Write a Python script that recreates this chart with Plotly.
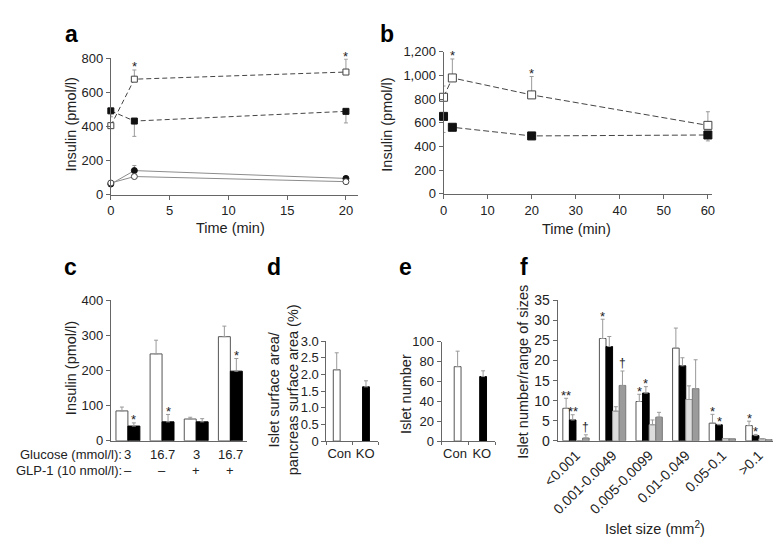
import plotly.graph_objects as go

# ---------------- data ----------------
# panel a
a_time = [0, 2, 20]
a_open_sq = [405, 678, 720]
a_open_sq_err = [0, 54, 76]
a_fill_sq = [492, 432, 489]
a_fill_sq_err = [35, 90, 68]
a_fill_circ = [62, 141, 95]
a_fill_circ_err = [0, 30, 0]
a_open_circ = [68, 106, 76]
a_star_times = [2, 20]

# panel b
b_time = [0, 2, 20, 60]
b_open_sq = [815, 978, 835, 578]
b_open_sq_err = [95, 160, 155, 115]
b_fill_sq = [654, 562, 489, 497]
b_fill_sq_err = [136, 0, 0, 50]
b_star_times = [2, 20]

# panel c
c_groups = [1, 2, 3, 4]
c_glucose = ["3", "16.7", "3", "16.7"]
c_glp1 = ["\u2013", "\u2013", "+", "+"]
c_con = [85, 247, 62, 296]
c_con_err = [11, 39, 5, 30]
c_ko = [42, 54, 54, 198]
c_ko_err = [9, 21, 9, 36]
c_ko_stars = [1, 2, 4]

# panel d
d_cats = ["Con", "KO"]
d_vals = [2.14, 1.63]
d_err = [0.51, 0.18]

# panel e
e_cats = ["Con", "KO"]
e_vals = [75, 65]
e_err = [15.6, 5.8]

# panel f
f_labels = ["<0.001", "0.001-0.0049", "0.005-0.0099", "0.01-0.049", "0.05-0.1", ">0.1"]
f_s1 = [8.1, 25.5, 9.8, 23.1, 4.4, 3.8]
f_s1_err = [2.5, 4.8, 1.8, 5.0, 2.2, 1.1]
f_s2 = [5.2, 23.5, 11.9, 18.7, 4.0, 1.3]
f_s2_err = [1.3, 2.5, 1.6, 2.0, 0.1, 0.3]
f_s3 = [0.0, 7.4, 4.0, 10.3, 0.55, 0.5]
f_s3_err = [0.0, 1.1, 1.2, 3.4, 0.0, 0.0]
f_s4 = [0.7, 13.8, 5.9, 13.0, 0.5, 0.3]
f_s4_err = [0.8, 3.6, 1.2, 7.2, 0.0, 0.0]
f_marks = {  # series index -> {group: mark}
    0: {1: "**", 2: "*", 3: "*", 5: "*", 6: "*"},
    1: {1: "**", 3: "*", 5: "*", 6: "*"},
    3: {1: "\u2020", 2: "\u2020"},
}

# ---------------- layout helpers ----------------
W, H = 781, 544
FONT = "Liberation Sans, Arial, sans-serif"
AX = "#666666"
TXT = "#222222"
ERR = "#9a9a9a"


def xd(a, b):
    return [a / W, b / W]


def yd(top, bottom):
    return [1 - bottom / H, 1 - top / H]


def axis_common(**kw):
    d = dict(showline=True, linecolor=AX, linewidth=1, ticks="outside", ticklen=4,
             tickcolor=AX, tickwidth=1, showgrid=False, zeroline=False,
             tickfont=dict(family=FONT, size=13, color=TXT), fixedrange=True)
    d.update(kw)
    return d


fig = go.Figure()
ann = []


def errbar(arr, up=True, vis=True):
    zeros = [0] * len(arr)
    return dict(type="data", symmetric=False, array=arr if up else zeros,
                arrayminus=zeros if up else arr, color=ERR, thickness=1, width=2, visible=vis)


# ---------------- panel a ----------------
fig.add_trace(go.Scatter(x=a_time, y=a_fill_circ, mode="lines+markers", xaxis="x", yaxis="y",
                         line=dict(color="#8c8c8c", width=1),
                         marker=dict(symbol="circle", size=6, color="#111", line=dict(color="#111", width=1)),
                         error_y=errbar(a_fill_circ_err), cliponaxis=False, showlegend=False))
fig.add_trace(go.Scatter(x=a_time, y=a_open_circ, mode="lines+markers", xaxis="x", yaxis="y",
                         line=dict(color="#8c8c8c", width=1),
                         marker=dict(symbol="circle", size=6, color="white", line=dict(color="#444", width=1)),
                         cliponaxis=False, showlegend=False))
fig.add_trace(go.Scatter(x=a_time, y=a_fill_sq, mode="lines+markers", xaxis="x", yaxis="y",
                         line=dict(color="#444", width=1, dash="5px,3px"),
                         marker=dict(symbol="square", size=6, color="#111", line=dict(color="#111", width=1)),
                         error_y=errbar(a_fill_sq_err, up=False), cliponaxis=False, showlegend=False))
fig.add_trace(go.Scatter(x=a_time, y=a_open_sq, mode="lines+markers", xaxis="x", yaxis="y",
                         line=dict(color="#444", width=1, dash="5px,3px"),
                         marker=dict(symbol="square", size=6, color="white", line=dict(color="#444", width=1)),
                         error_y=errbar(a_open_sq_err), cliponaxis=False, showlegend=False))
for t in a_star_times:
    i = a_time.index(t)
    ann.append(dict(x=t, y=a_open_sq[i] + a_open_sq_err[i], xref="x", yref="y", text="*",
                    showarrow=False, yanchor="middle", yshift=3,
                    font=dict(family=FONT, size=13, color=TXT)))

# ---------------- panel b ----------------
fig.add_trace(go.Scatter(x=b_time, y=b_fill_sq, mode="lines+markers", xaxis="x2", yaxis="y2",
                         line=dict(color="#444", width=1, dash="6px,3px"),
                         marker=dict(symbol="square", size=8, color="#111", line=dict(color="#111", width=1)),
                         error_y=errbar(b_fill_sq_err, up=False), cliponaxis=False, showlegend=False))
fig.add_trace(go.Scatter(x=b_time, y=b_open_sq, mode="lines+markers", xaxis="x2", yaxis="y2",
                         line=dict(color="#444", width=1, dash="6px,3px"),
                         marker=dict(symbol="square", size=8, color="white", line=dict(color="#444", width=1)),
                         error_y=errbar(b_open_sq_err), cliponaxis=False, showlegend=False))
for t in b_star_times:
    i = b_time.index(t)
    ann.append(dict(x=t, y=b_open_sq[i] + b_open_sq_err[i], xref="x2", yref="y2", text="*",
                    showarrow=False, yanchor="middle", yshift=3,
                    font=dict(family=FONT, size=13, color=TXT)))

# ---------------- panel c ----------------
CW = 0.35
fig.add_trace(go.Bar(x=c_groups, y=c_con, xaxis="x3", yaxis="y3", width=CW, offset=-CW,
                     marker=dict(color="white", line=dict(color="#555", width=1)),
                     error_y=errbar(c_con_err), showlegend=False))
fig.add_trace(go.Bar(x=c_groups, y=c_ko, xaxis="x3", yaxis="y3", width=CW, offset=0,
                     marker=dict(color="#000", line=dict(color="#000", width=1)),
                     error_y=errbar(c_ko_err), showlegend=False))
for g in c_ko_stars:
    i = c_groups.index(g)
    ann.append(dict(x=g + CW / 2, y=c_ko[i] + c_ko_err[i], xref="x3", yref="y3", text="*",
                    showarrow=False, yanchor="middle", yshift=3,
                    font=dict(family=FONT, size=13, color=TXT)))
for g, glu, glp in zip(c_groups, c_glucose, c_glp1):
    ann.append(dict(x=g, y=1 - 452 / H, xref="x3", yref="paper", text=glu, showarrow=False,
                    xanchor="center", yanchor="middle", font=dict(family=FONT, size=13, color=TXT)))
    ann.append(dict(x=g, y=1 - 468 / H, xref="x3", yref="paper", text=glp, showarrow=False,
                    xanchor="center", yanchor="middle", font=dict(family=FONT, size=13, color=TXT)))
ann.append(dict(x=103 / W, y=1 - 452 / H, xref="paper", yref="paper", text="Glucose (mmol/l):",
                showarrow=False, xanchor="right", yanchor="middle", font=dict(family=FONT, size=13, color=TXT)))
ann.append(dict(x=103 / W, y=1 - 468 / H, xref="paper", yref="paper", text="GLP-1 (10 nmol/l):",
                showarrow=False, xanchor="right", yanchor="middle", font=dict(family=FONT, size=13, color=TXT)))

# ---------------- panel d ----------------
fig.add_trace(go.Bar(x=[1, 2], y=d_vals, xaxis="x4", yaxis="y4", width=0.265, offset=[-0.236, -0.104],
                     marker=dict(color=["white", "#000"], line=dict(color=["#555", "#000"], width=1)),
                     error_y=errbar(d_err), showlegend=False))

# ---------------- panel e ----------------
fig.add_trace(go.Bar(x=[1, 2], y=e_vals, xaxis="x5", yaxis="y5", width=0.255, offset=[-0.03, -0.08],
                     marker=dict(color=["white", "#000"], line=dict(color=["#555", "#000"], width=1)),
                     error_y=errbar(e_err), showlegend=False))

# ---------------- panel f ----------------
FW = 0.18
f_series = [(f_s1, f_s1_err, "white", "#555"), (f_s2, f_s2_err, "#000", "#000"),
            (f_s3, f_s3_err, "#dcdcdc", "#9a9a9a"), (f_s4, f_s4_err, "#9b9b9b", "#777")]
f_x = list(range(1, len(f_labels) + 1))
for k, (vals, errs, fc, lc) in enumerate(f_series):
    off = -2 * FW + k * FW
    fig.add_trace(go.Bar(x=f_x, y=vals, xaxis="x6", yaxis="y6", width=FW, offset=off,
                         marker=dict(color=fc, line=dict(color=lc, width=1)),
                         error_y=errbar(errs), showlegend=False))
    for g, mark in f_marks.get(k, {}).items():
        i = g - 1
        ann.append(dict(x=g + off + FW / 2, y=vals[i] + errs[i], xref="x6", yref="y6", text=mark,
                        showarrow=False, yanchor="middle",
                        yshift=3 if mark.startswith("*") else 8,
                        font=dict(family=FONT, size=13 if mark.startswith("*") else 12, color=TXT)))

# ---------------- titles & panel letters ----------------
TF = dict(family=FONT, size=14.5, color=TXT)


def ytitle(text, x, y):
    ann.append(dict(x=x / W, y=1 - y / H, xref="paper", yref="paper", text=text, textangle=-90,
                    showarrow=False, xanchor="center", yanchor="middle", font=TF))


def xtitle(text, x, y):
    ann.append(dict(x=x / W, y=1 - y / H, xref="paper", yref="paper", text=text,
                    showarrow=False, xanchor="center", yanchor="middle", font=TF))


ytitle("Insulin (pmol/l)", 48, 112)
ytitle("Insulin (pmol/l)", 372, 112)
ytitle("Insulin (pmol/l)", 49, 363)
ytitle("Islet surface area/<br>pancreas surface area (%)", 266, 385)
ytitle("Islet number", 391, 389)
ytitle("Islet number/range of sizes", 512, 367)
xtitle("Time (min)", 212, 218)
xtitle("Time (min)", 566, 219)
xtitle("Islet size (mm<sup>2</sup>)", 647, 527)

for letter, x, y in [("a", 49, 19), ("b", 372, 19), ("c", 48, 259), ("d", 256, 259),
                     ("e", 391, 259), ("f", 512, 259)]:
    ann.append(dict(x=x / W, y=1 - y / H, xref="paper", yref="paper", text="<b>%s</b>" % letter,
                    showarrow=False, xanchor="center", yanchor="middle",
                    font=dict(family=FONT, size=23, color="#000")))

# ---------------- axes ----------------
fig.update_layout(
    width=W, height=H, margin=dict(l=0, r=0, t=0, b=0),
    paper_bgcolor="white", plot_bgcolor="white", barmode="overlay",
    font=dict(family=FONT, color=TXT),
    xaxis=axis_common(domain=xd(89, 342), range=[0, 21], tickvals=[0, 5, 10, 15, 20], anchor="y"),
    yaxis=axis_common(domain=yd(43.7, 184), range=[0, 800], tickvals=[0, 200, 400, 600, 800], anchor="x"),
    xaxis2=axis_common(domain=xd(430, 705), range=[0, 60.9], tickvals=[0, 10, 20, 30, 40, 50, 60], anchor="y2"),
    yaxis2=axis_common(domain=yd(36.7, 183.3), range=[0, 1200], tickvals=[0, 200, 400, 600, 800, 1000, 1200],
                       tickformat=",d", anchor="x2"),
    xaxis3=axis_common(domain=xd(89, 229), range=[0.5, 4.5], showticklabels=False, ticks="", anchor="y3"),
    yaxis3=axis_common(domain=yd(292.7, 437.7), range=[0, 400], tickvals=[0, 100, 200, 300, 400], anchor="x3"),
    xaxis4=axis_common(domain=xd(310, 363), range=[0.5, 2.5], tickvals=[1, 2], ticktext=d_cats, ticks="",
                       minor=dict(tickvals=[0.5, 1.5, 2.5], ticks="outside", ticklen=3, tickcolor=AX),
                       anchor="y4"),
    yaxis4=axis_common(domain=yd(335, 438), range=[0, 3], tickvals=[0, 0.5, 1, 1.5, 2, 2.5, 3],
                       ticktext=["0", "0.5", "1.0", "1.5", "2.0", "2.5", "3.0"], anchor="x4"),
    xaxis5=axis_common(domain=xd(428, 483), range=[0.5, 2.5], tickvals=[1, 2], ticktext=e_cats, ticks="",
                       minor=dict(tickvals=[0.5, 1.5, 2.5], ticks="outside", ticklen=3, tickcolor=AX),
                       anchor="y5"),
    yaxis5=axis_common(domain=yd(335.7, 438), range=[0, 100], tickvals=[0, 20, 40, 60, 80, 100], anchor="x5"),
    xaxis6=axis_common(domain=xd(547, 772), range=[0.5, 6.5], tickvals=f_x, ticktext=f_labels, tickangle=-45,
                       ticks="", tickfont=dict(family=FONT, size=14, color=TXT), anchor="y6"),
    yaxis6=axis_common(domain=yd(293, 437.7), range=[0, 35], tickvals=[0, 5, 10, 15, 20, 25, 30, 35],
                       tickfont=dict(family=FONT, size=14, color=TXT), anchor="x6"),
    annotations=ann,
)

fig.write_html("out.html")
